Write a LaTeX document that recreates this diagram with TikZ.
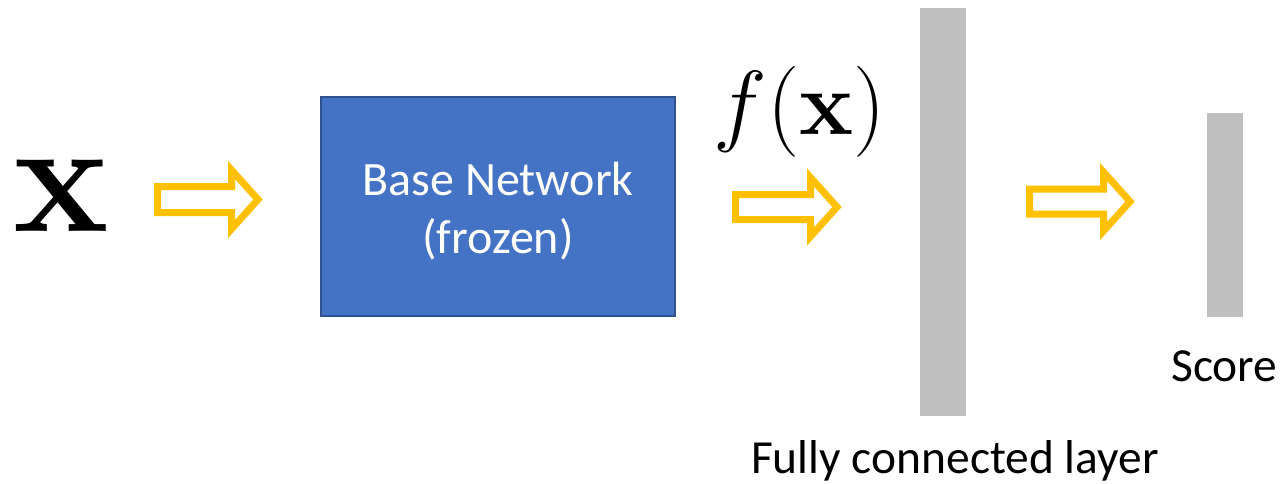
\RequirePackage{fix-cm}
\documentclass[tikz,border=0pt]{standalone}
\usepackage[no-math]{fontspec}
\setmainfont{Carlito}
\definecolor{netblue}{HTML}{4472C4}
\definecolor{netedge}{HTML}{2F528F}
\definecolor{layergray}{HTML}{BFBFBF}
\definecolor{flowyellow}{HTML}{FFC000}
\tikzset{
  netbox/.style={draw=netedge, line width=2pt, fill=netblue, inner sep=0pt},
  nettext/.style={text=white, align=center, font=\fontsize{48}{58}\selectfont, inner sep=0pt},
  layerbar/.style={fill=layergray, draw=none, inner sep=0pt},
  caption/.style={font=\fontsize{47.5}{52}\selectfont, inner sep=0pt},
  flowarrow/.style={draw=flowyellow, line width=7pt, line join=miter, fill=white},
}
% hollow block arrow: #1 tail x, #2 head base x, #3 tip x, #4 centre y,
% #5 shaft half height, #6 head half height (outer outline)
\newcommand\blockarrow[6]{%
  \draw[flowarrow]
    ({#1+3.5},{#4-#5+3.5}) -- ({#2+3.5},{#4-#5+3.5}) -- ({#2+3.5},{#4-#6+5})
    -- ({#3-5},{#4}) -- ({#2+3.5},{#4+#6-5}) -- ({#2+3.5},{#4+#5-3.5})
    -- ({#1+3.5},{#4+#5-3.5}) -- cycle;}
\begin{document}
\begin{tikzpicture}[x=1pt, y=-1pt]
  \useasboundingbox (0,0) rectangle (1283,483);
  % input
  \node[inner sep=0pt, font=\fontsize{161}{161}\selectfont] (input) at (61.5,196) {$\mathbf{x}$};
  % frozen backbone
  \node[netbox, minimum width=354pt, minimum height=219pt] (base) at (498,206.5) {};
  \node[nettext, yshift=-4.5pt] (basetext) at (base.center) {Base Network\\(frozen)};
  % feature label
  \node[inner sep=0pt, font=\fontsize{91}{91}\selectfont] (feat) at (799.5,112) {$f(\mathbf{x})$};
  % layers
  \node[layerbar, minimum width=46pt, minimum height=408pt] (fc) at (942.5,212) {};
  \node[layerbar, minimum width=36pt, minimum height=204pt] (score) at (1225,215) {};
  \node[caption, anchor=base] (fclabel) at (955,473) {Fully connected layer};
  \node[caption, anchor=base] (scorelabel) at (1224.5,381) {Score};
  % flow arrows
  \blockarrow{154}{228}{263}{199.5}{16.5}{34.5}
  \blockarrow{732}{807}{842}{207}{16}{34.5}
  \blockarrow{1026}{1100}{1135}{201.5}{16}{34.5}
\end{tikzpicture}
\end{document}
